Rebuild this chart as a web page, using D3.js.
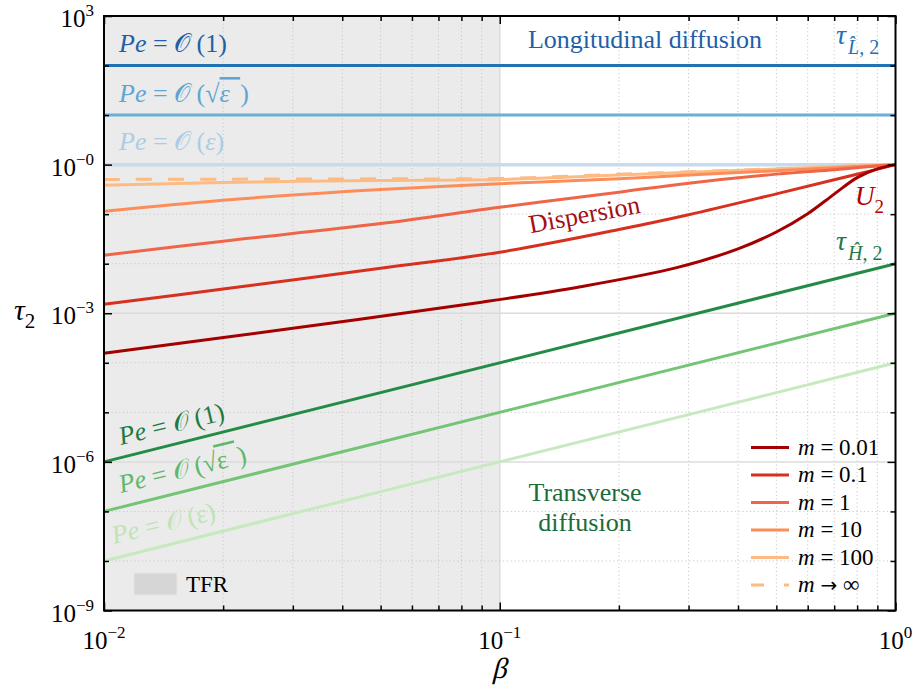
<!DOCTYPE html>
<html>
<head>
<meta charset="utf-8">
<script src="https://cdn.jsdelivr.net/npm/d3@7"></script>
<style>
  body { margin: 0; background: #fff; }
  svg, svg text { font-family: "Liberation Serif", "Times New Roman", serif; }
  svg { display: block; }
  .it { font-style: italic; }
</style>
</head>
<body>
<svg id="chart" width="916" height="693"></svg>
<script>
// ---- data -------------------------------------------------------------
// beta sample points for the dispersion curves U2(beta; m)
const betaSamples = [0.01, 0.02, 0.05, 0.1, 0.2, 0.3, 0.5, 0.7, 0.85, 1];
const u2_m0_1   = [1.52e-3, 3.08e-3, 8.07e-3, 1.71e-2, 4.9e-2, 9.75e-2, 0.257, 0.495, 0.722, 1];
const u2_m1     = [1.485e-2, 2.85e-2, 6.46e-2, 0.138, 0.278, 0.423, 0.643, 0.792, 0.903, 1];
const u2_m10    = [0.115, 0.192, 0.313, 0.413, 0.521, 0.614, 0.753, 0.866, 0.937, 1];
const u2_m100   = [0.385, 0.437, 0.480, 0.502, 0.619, 0.699, 0.815, 0.903, 0.954, 1];
const u2_mInf   = [0.502, 0.509, 0.516, 0.526, 0.640, 0.715, 0.826, 0.907, 0.959, 1];
// m = 0.01 bends sharply near beta = 1, so it has its own sample points
const betaSamplesM001 = [0.01, 0.03, 0.09, 0.16, 0.28, 0.4, 0.5, 0.6, 0.7, 0.8, 0.9, 1];
const u2_m0_01  = [1.556e-4, 4.98e-4, 1.67e-3, 3.43e-3, 8.32e-3, 1.995e-2, 4.365e-2, 0.102, 0.254, 0.546, 0.819, 1];

const mLabels = ["0.01", "0.1", "1", "10", "100", "\u221E"];

// longitudinal diffusion time scales (constant in beta) for Pe = O(1), O(sqrt eps), O(eps)
const betaRange = [0.01, 1];
const tauL_pe1    = [100, 100];
const tauL_peSqrt = [10, 10];
const tauL_peEps  = [1, 1];
// transverse diffusion time scales (power law in beta)
const tauH_pe1    = [1e-6, 1e-2];
const tauH_peSqrt = [1e-7, 1e-3];
const tauH_peEps  = [1e-8, 1e-4];

// TFR shaded interval of beta
const tfrRange = [0.01, 0.1];

// axis ticks
const xMajor = [0.01, 0.1, 1];
const xMajorLabels = [["10", "\u22122"], ["10", "\u22121"], ["10", "0"]];
const yDecades = [1e3, 1e2, 1e1, 1e0, 1e-1, 1e-2, 1e-3, 1e-4, 1e-5, 1e-6, 1e-7, 1e-8, 1e-9];
const yMajor = [1e3, 1e0, 1e-3, 1e-6, 1e-9];
const yMajorLabels = [["10", "3"], ["10", "\u22120"], ["10", "\u22123"], ["10", "\u22126"], ["10", "\u22129"]];

// ---- colours ----------------------------------------------------------
const redColors = ["#a50000", "#d7301f", "#ef6548", "#fc8d59", "#fdbb84", "#fdbb84"];
const blueColors = ["#2171b5", "#6baed6", "#c6dbef"];
const greenColors = ["#238b45", "#74c476", "#c7e9c0"];

// ---- layout -----------------------------------------------------------
const svg = d3.select("#chart");
const pL = 104, pR = 895.5, pT = 16, pB = 610.5;
const x = d3.scaleLog().domain([0.01, 1]).range([pL, pR]);
const y = d3.scaleLog().domain([1e-9, 1e3]).range([pB, pT]);

// TFR shading
svg.append("rect")
  .attr("x", x(tfrRange[0])).attr("y", pT)
  .attr("width", x(tfrRange[1]) - x(tfrRange[0]))
  .attr("height", pB - pT)
  .attr("fill", "#ebebeb");

// grid
const xMinor = [];
[0.01, 0.1].forEach(d => { for (let k = 2; k <= 9; k++) xMinor.push(d * k); });
const yMinor = yDecades.filter(d => !yMajor.includes(d));
const grid = svg.append("g");
grid.selectAll(".gx").data(xMinor).join("line")
  .attr("x1", d => x(d)).attr("x2", d => x(d))
  .attr("y1", pT).attr("y2", pB)
  .attr("stroke", "#c8c8c8").attr("stroke-width", 1).attr("stroke-dasharray", "1.2,2.6");
grid.append("line")
  .attr("x1", x(0.1)).attr("x2", x(0.1)).attr("y1", pT).attr("y2", pB)
  .attr("stroke", "#dcdcdc").attr("stroke-width", 1.5);
grid.selectAll(".gy").data(yMinor).join("line")
  .attr("x1", pL).attr("x2", pR)
  .attr("y1", d => y(d)).attr("y2", d => y(d))
  .attr("stroke", "#c8c8c8").attr("stroke-width", 1).attr("stroke-dasharray", "1.2,2.6");
grid.selectAll(".gym").data(yMajor).join("line")
  .attr("x1", pL).attr("x2", pR)
  .attr("y1", d => y(d)).attr("y2", d => y(d))
  .attr("stroke", "#dcdcdc").attr("stroke-width", 1.5);

const line = d3.line().x(d => x(d[0])).y(d => y(d[1]));
const smooth = d3.line().x(d => x(d[0])).y(d => y(d[1])).curve(d3.curveCatmullRom.alpha(0.5));
const zip = (xs, ys) => xs.map((v, i) => [v, ys[i]]);

// longitudinal (blue) and transverse (green) diffusion lines
const marks = svg.append("g").attr("fill", "none").attr("stroke-width", 3);
[tauL_pe1, tauL_peSqrt, tauL_peEps].forEach((s, i) => {
  marks.append("path").attr("d", line(zip(betaRange, s))).attr("stroke", blueColors[i])
    .attr("stroke-width", i === 2 ? 3.5 : 3);
});
[tauH_pe1, tauH_peSqrt, tauH_peEps].forEach((s, i) => {
  marks.append("path").attr("d", line(zip(betaRange, s))).attr("stroke", greenColors[i]);
});

// dispersion curves, drawn from large m to small m
const curves = [
  { xs: betaSamplesM001, ys: u2_m0_01, dash: null },
  { xs: betaSamples, ys: u2_m0_1, dash: null },
  { xs: betaSamples, ys: u2_m1, dash: null },
  { xs: betaSamples, ys: u2_m10, dash: null },
  { xs: betaSamples, ys: u2_m100, dash: null },
  { xs: betaSamples, ys: u2_mInf, dash: "16,16" }
];
for (let i = curves.length - 1; i >= 0; i--) {
  const c = curves[i];
  marks.append("path").attr("d", smooth(zip(c.xs, c.ys)))
    .attr("stroke", redColors[i]).attr("stroke-dasharray", c.dash);
}

// frame
svg.append("rect").attr("x", pL).attr("y", pT)
  .attr("width", pR - pL).attr("height", pB - pT)
  .attr("fill", "none").attr("stroke", "#000").attr("stroke-width", 2);

// inward ticks on all four sides
function ticks(g, axis) {
  g.call(axis);
  g.select(".domain").remove();
  g.selectAll("line").attr("stroke-width", 1.5);
}
const noText = () => "";
function tickGroup(tx, ty, axis) {
  svg.append("g").attr("transform", `translate(${tx},${ty})`).call(g => ticks(g, axis));
}
tickGroup(0, pB, d3.axisBottom(x).tickValues(xMajor).tickSize(-8).tickFormat(noText));
tickGroup(0, pB, d3.axisBottom(x).tickValues(xMinor).tickSize(-5).tickFormat(noText));
tickGroup(0, pT, d3.axisTop(x).tickValues(xMajor).tickSize(-8).tickFormat(noText));
tickGroup(0, pT, d3.axisTop(x).tickValues(xMinor).tickSize(-5).tickFormat(noText));
tickGroup(pL, 0, d3.axisLeft(y).tickValues(yMajor).tickSize(-8).tickFormat(noText));
tickGroup(pL, 0, d3.axisLeft(y).tickValues(yMinor).tickSize(-5).tickFormat(noText));
tickGroup(pR, 0, d3.axisRight(y).tickValues(yMajor).tickSize(-8).tickFormat(noText));
tickGroup(pR, 0, d3.axisRight(y).tickValues(yMinor).tickSize(-5).tickFormat(noText));

// power-of-ten tick labels
function powLabel(g, base, exp, px, py, anchor) {
  const t = g.append("text").attr("x", px).attr("y", py).attr("text-anchor", anchor)
    .attr("font-size", 25).attr("fill", "#000");
  t.append("tspan").text(base);
  t.append("tspan").attr("font-size", 17).attr("dy", -11).text(exp);
}
const labels = svg.append("g");
xMajor.forEach((d, i) => powLabel(labels, xMajorLabels[i][0], xMajorLabels[i][1], x(d), 649, "middle"));
yMajor.forEach((d, i) => powLabel(labels, yMajorLabels[i][0], yMajorLabels[i][1], 94, y(d) + 11, "end"));

// axis titles (the lone beta is slanted from the upright serif face)
svg.append("text").attr("transform", `translate(${x(0.1) - 8},678) skewX(-14)`)
  .attr("font-size", 29).text("\u03B2");
const yt = svg.append("text").attr("x", 14).attr("y", 320).attr("font-size", 30);
yt.append("tspan").attr("class", "it").text("\u03C4");
yt.append("tspan").attr("font-size", 21).attr("dy", 8).text("2");

// "Pe = O(...)" labels
function peLabel(g, arg, px, py, color, rot, italicEps) {
  const t = g.append("text").attr("font-size", 26).attr("fill", color)
    .attr("transform", `translate(${px},${py}) rotate(${rot})`);
  t.append("tspan").attr("class", "it").text("Pe");
  t.append("tspan").text(" = ");
  t.append("tspan").text("\uD835\uDCAA");
  t.append("tspan").text(" (");
  if (arg === "sqrt") {
    t.append("tspan").text("\u221A");
    t.append("tspan").attr("class", italicEps ? "it" : null)
      .style("text-decoration", "overline").text("\u03B5\u2009\u2009");
  } else if (arg === "eps") {
    t.append("tspan").attr("class", italicEps ? "it" : null).text("\u03B5");
  } else {
    t.append("tspan").text("1");
  }
  t.append("tspan").text(")");
}
const ann = svg.append("g");
peLabel(ann, "1", 119, 52, "#1f5fa8", 0, true);
peLabel(ann, "sqrt", 119, 102, "#5fa5d3", 0, true);
peLabel(ann, "eps", 119, 150, "#aacde6", 0, true);
peLabel(ann, "1", 121, 445, "#1e7a40", -13.5, false);
peLabel(ann, "sqrt", 121, 493, "#5db86a", -13.5, false);
peLabel(ann, "eps", 114, 544, "#bfe3b6", -13.5, false);

// region / curve annotations
ann.append("text").attr("x", 645).attr("y", 48).attr("text-anchor", "middle")
  .attr("font-size", 26).attr("fill", "#1f5fa8").text("Longitudinal diffusion");
ann.append("text").attr("font-size", 26).attr("fill", "#a50f15").attr("text-anchor", "middle")
  .attr("transform", "translate(586,223) rotate(-10.5)").text("Dispersion");
const tr = ann.append("text").attr("font-size", 26).attr("fill", "#1a6b3c").attr("text-anchor", "middle");
tr.append("tspan").attr("x", 585).attr("y", 501).text("Transverse");
tr.append("tspan").attr("x", 585).attr("y", 531).text("diffusion");

const u2 = ann.append("text").attr("x", 855).attr("y", 205).attr("font-size", 27).attr("fill", "#b30000");
u2.append("tspan").attr("class", "it").text("U");
u2.append("tspan").attr("font-size", 19).attr("dy", 8).text("2");

function tauLabel(g, letter, px, py, color) {
  const t = g.append("text").attr("x", px).attr("y", py).attr("font-size", 28).attr("fill", color);
  t.append("tspan").attr("class", "it").text("\u03C4");
  t.append("tspan").attr("class", "it").attr("font-size", 20).attr("dy", 10).attr("dx", 2).text(letter + "\u0302");
  t.append("tspan").attr("font-size", 20).text(", 2");
}
tauLabel(ann, "L", 836, 44, "#2171b5");
tauLabel(ann, "H", 836, 250, "#1e7a48");

// legend for m
const leg = svg.append("g");
const legY0 = 447.5, legDy = 27.5;
mLabels.forEach((lab, i) => {
  const yy = legY0 + i * legDy;
  leg.append("line").attr("x1", 751).attr("x2", 789).attr("y1", yy).attr("y2", yy)
    .attr("stroke", redColors[i]).attr("stroke-width", 3)
    .attr("stroke-dasharray", i === 5 ? "13,20" : null);
  const t = leg.append("text").attr("x", 798).attr("y", yy + 7).attr("font-size", 23).attr("fill", "#000");
  t.append("tspan").attr("class", "it").text("m");
  if (i === 5) {
    t.append("tspan").text(" ");
    t.append("tspan").style("font-family", "'DejaVu Sans', sans-serif").attr("font-size", 20).text("\u2192");
    t.append("tspan").text(" ");
  } else {
    t.append("tspan").text(" = ");
  }
  t.append("tspan").text(lab);
});

// TFR legend
svg.append("rect").attr("x", 134).attr("y", 573).attr("width", 43).attr("height", 22)
  .attr("fill", "#d6d6d6").attr("stroke", "#e6e6e6");
svg.append("text").attr("x", 186).attr("y", 592).attr("font-size", 23).text("TFR");
</script>
</body>
</html>
